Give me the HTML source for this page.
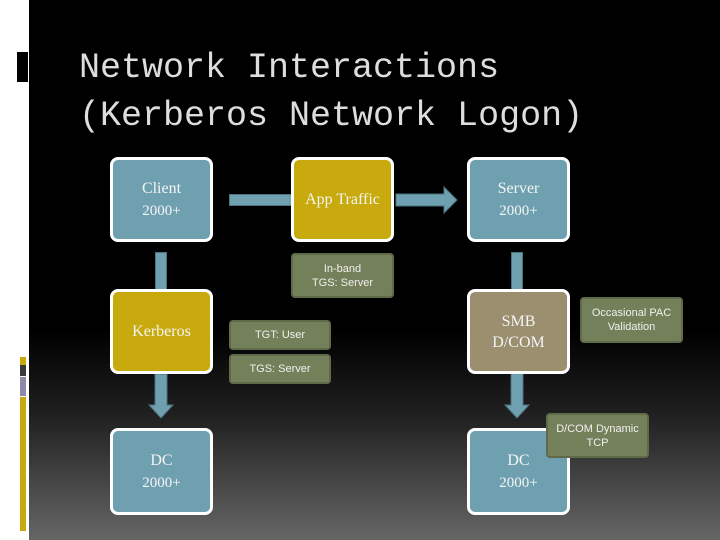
<!DOCTYPE html>
<html><head><meta charset="utf-8"><style>
*{margin:0;padding:0;box-sizing:border-box}
body{width:720px;height:540px;overflow:hidden;background:#fff;position:relative;font-family:"Liberation Sans",sans-serif}
#bg{position:absolute;left:29px;top:0;width:691px;height:540px;background:linear-gradient(to bottom,#000 0px,#000 330px,#222 420px,#666 540px)}
.t{position:absolute;left:79px;font-family:"Liberation Mono",monospace;font-size:35px;color:#ddd;white-space:nowrap}
.b{position:absolute;width:103px;border:3px solid #fff;border-radius:8px;color:#f4f4f4;display:flex;flex-direction:column;justify-content:center;align-items:center;text-align:center;font-family:"Liberation Serif",serif;font-size:16px;line-height:23px}
.blue{background:#6fa0b0}.yel{background:#c9aa0e}.tan{background:#9b8f70}
.g{position:absolute;background:#74805a;border:2px solid #5f6a48;border-radius:4px;color:#f0f0f0;font-size:11px;line-height:14px;display:flex;align-items:center;justify-content:center;text-align:center}
.c{position:absolute;background:#6fa0b0;border:1px solid #4d7280}
</style></head><body>
<div id="bg"></div>
<div style="position:absolute;left:17px;top:52px;width:11px;height:30px;background:#000"></div>
<div style="position:absolute;left:20px;top:357px;width:6px;height:8px;background:#c9aa0e"></div>
<div style="position:absolute;left:20px;top:365px;width:6px;height:11px;background:#3a3a3a"></div>
<div style="position:absolute;left:20px;top:377px;width:6px;height:19px;background:#8e8aa8"></div>
<div style="position:absolute;left:20px;top:397px;width:6px;height:134px;background:#c9aa0e"></div>
<div class="t" style="top:48px">Network Interactions</div>
<div class="t" style="top:96px">(Kerberos Network Logon)</div>

<div class="c" style="left:229px;top:194px;width:64px;height:12px"></div>
<div class="c" style="left:155px;top:252px;width:12px;height:38px"></div>
<div class="c" style="left:511px;top:252px;width:12px;height:38px"></div>
<svg style="position:absolute;left:0;top:0" width="720" height="540">
<polygon points="396,194 444,194 444,187 457,200 444,213 444,206 396,206" fill="#6fa0b0" stroke="#4d7280"/>
<polygon points="155,374 167,374 167,405 173,405 161,418 149,405 155,405" fill="#6fa0b0" stroke="#4d7280"/>
<polygon points="511,373 523,373 523,405 529,405 517,418 505,405 511,405" fill="#6fa0b0" stroke="#4d7280"/>
</svg>

<div class="b blue" style="left:110px;top:157px;height:85px">Client<br><span style="font-size:15px">2000+</span></div>
<div class="b yel" style="left:291px;top:157px;height:85px">App Traffic</div>
<div class="b blue" style="left:467px;top:157px;height:85px">Server<br><span style="font-size:15px">2000+</span></div>
<div class="b yel" style="left:110px;top:289px;height:85px">Kerberos</div>
<div class="b tan" style="left:467px;top:289px;height:85px;line-height:21px">SMB<br>D/COM</div>
<div class="b blue" style="left:110px;top:428px;height:87px">DC<br><span style="font-size:15px">2000+</span></div>
<div class="b blue" style="left:467px;top:428px;height:87px">DC<br><span style="font-size:15px">2000+</span></div>

<div class="g" style="left:291px;top:253px;width:103px;height:45px">In-band<br>TGS: Server</div>
<div class="g" style="left:229px;top:320px;width:102px;height:30px">TGT: User</div>
<div class="g" style="left:229px;top:354px;width:102px;height:30px">TGS: Server</div>
<div class="g" style="left:580px;top:297px;width:103px;height:46px">Occasional PAC<br>Validation</div>
<div class="g" style="left:546px;top:413px;width:103px;height:45px">D/COM Dynamic<br>TCP</div>
</body></html>
